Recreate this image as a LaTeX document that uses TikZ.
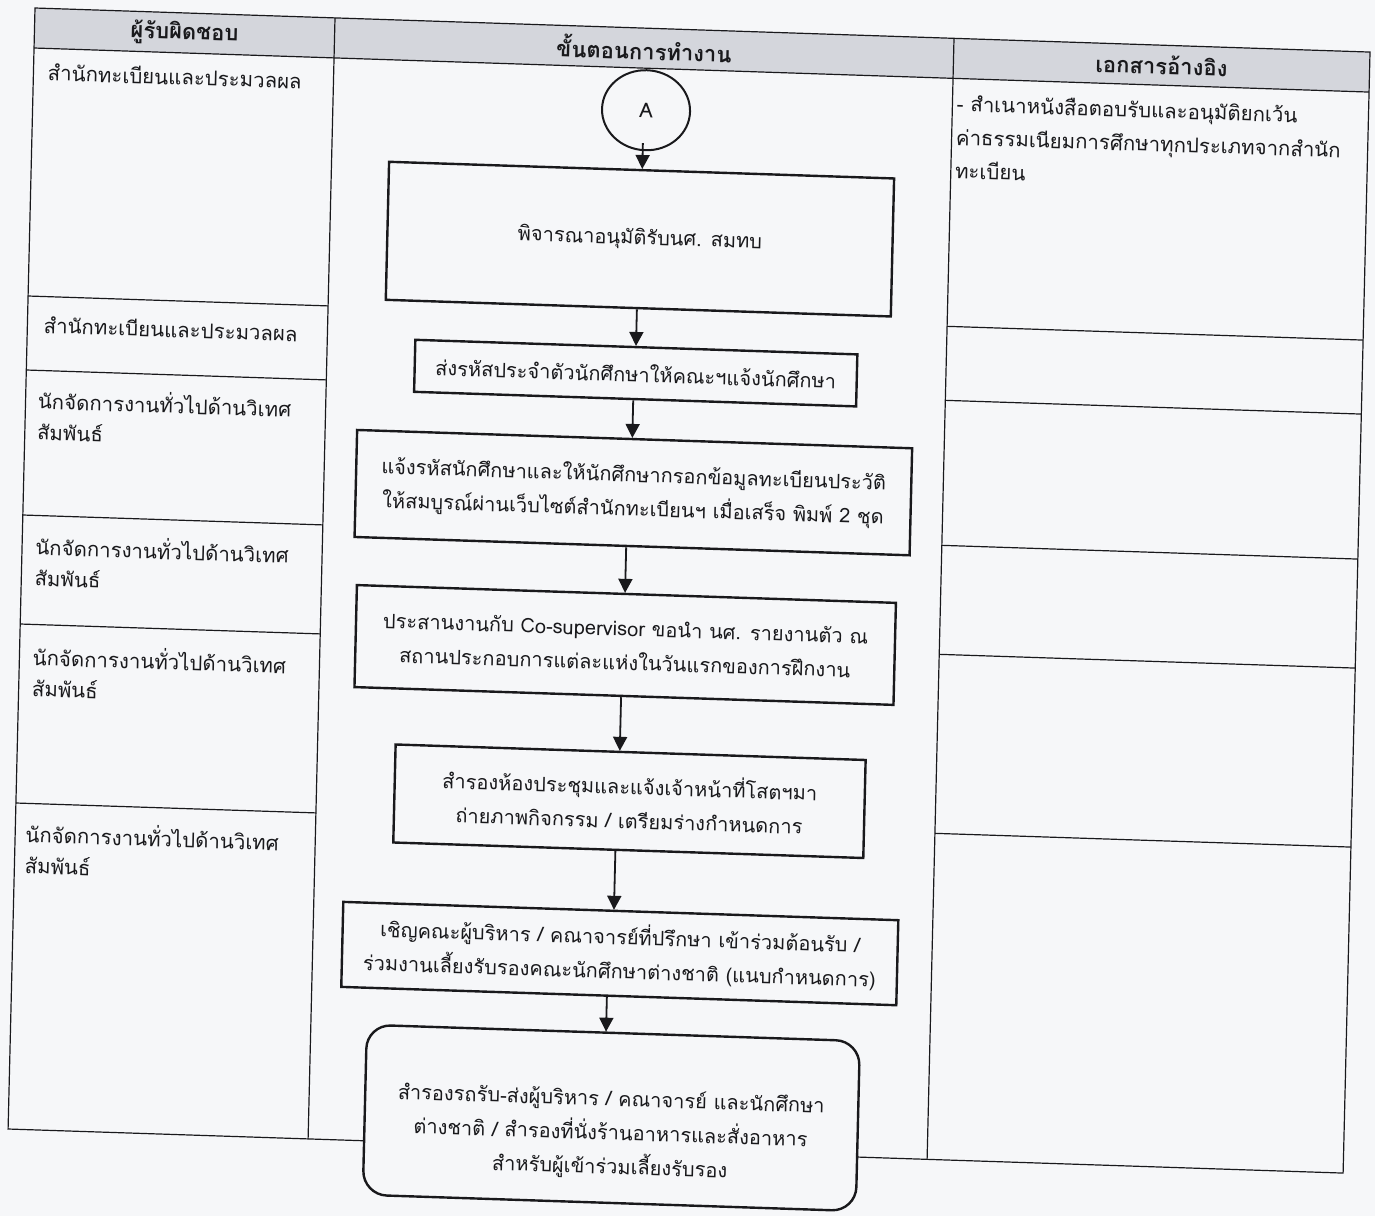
\documentclass[tikz,border=0pt]{standalone}
\usepackage{fontspec}
\setmainfont{Loma}[Script=Thai]
\usetikzlibrary{arrows.meta,shapes.geometric}
\definecolor{paper}{RGB}{246,247,249}
\definecolor{hdrfill}{RGB}{212,214,220}
\definecolor{ink}{RGB}{25,25,28}
\newcommand{\bodyfont}{\fontsize{10pt}{17pt}\selectfont}
\newcommand{\cellfont}{\fontsize{10.2pt}{15.5pt}\selectfont}
\newcommand{\headfont}{\fontsize{11pt}{14pt}\selectfont\bfseries}
\tikzset{
  tbl/.style={draw=ink, line width=0.6pt},
  stepbox/.style={draw=ink, line width=1.2pt, fill=paper, align=center, inner sep=0pt, font=\bodyfont, text=ink},
  celltxt/.style={anchor=west, align=left, inner sep=0pt, font=\cellfont, text=ink},
  hdtxt/.style={inner sep=0pt, font=\headfont, text=ink},
  arr/.style={draw=ink, line width=0.9pt, -{Triangle[width=7pt,length=7pt]}},
}
\begin{document}
\begin{tikzpicture}[x=0.5pt,y=0.5pt]
\fill[paper] (0,0) rectangle (1375,-1216);
\useasboundingbox (0,0) rectangle (1375,-1216);
\begin{scope}[cm={1,-0.033,0.024,1,(35,-8)}, transform shape]
  % table
  \fill[hdrfill] (0,0) rectangle (1335,-40);
  \draw[tbl] (0,0) rectangle (1335,-1121);
  \draw[tbl] (0,-40) -- (1335,-40);
  \draw[tbl] (300,0) -- (300,-1121);
  \draw[tbl] (919,0) -- (919,-1121);
  \foreach \v in {288,362,507,616,795}{
    \draw[tbl] (0,-\v) -- (300,-\v);
    \draw[tbl] (919,-\v) -- (1335,-\v);
  }
  % headers
  \node[hdtxt] (h1) at (150,-20) {ผู้รับผิดชอบ};
  \node[hdtxt] (h2) at (609.5,-20) {ขั้นตอนการทำงาน};
  \node[hdtxt] (h3) at (1127,-20) {เอกสารอ้างอิง};
  % left column
  \node[celltxt] (r1) at (14,-63.5) {สำนักทะเบียนและประมวลผล};
  \node[celltxt] (r2) at (16,-316) {สำนักทะเบียนและประมวลผล};
  \node[celltxt] (r3) at (12,-405.6) {นักจัดการงานทั่วไปด้านวิเทศ\\สัมพันธ์};
  \node[celltxt] (r4) at (13,-551.6) {นักจัดการงานทั่วไปด้านวิเทศ\\สัมพันธ์};
  \node[celltxt] (r5) at (13,-662) {นักจัดการงานทั่วไปด้านวิเทศ\\สัมพันธ์};
  \node[celltxt] (r6) at (10,-839) {นักจัดการงานทั่วไปด้านวิเทศ\\สัมพันธ์};
  % right column
  \node[celltxt, font=\fontsize{10.2pt}{16.75pt}\selectfont] (d1) at (923,-98) {- สำเนาหนังสือตอบรับและอนุมัติยกเว้น\\ค่าธรรมเนียมการศึกษาทุกประเภทจากสำนัก\\ทะเบียน};
  % flow
  \node[ellipse, draw=ink, line width=1pt, fill=paper, minimum width=44pt, minimum height=40pt, inner sep=0pt, font=\cellfont, text=ink] (A) at (613,-82) {A};
  \node[stepbox, minimum width=252.5pt, minimum height=69pt] (b1) at (610,-211) {พิจารณาอนุมัติรับนศ. สมทบ};
  \node[stepbox, minimum width=221pt, minimum height=26pt] (b2) at (609,-345) {ส่งรหัสประจำตัวนักศึกษาให้คณะฯแจ้งนักศึกษา};
  \node[stepbox, minimum width=277.5pt, minimum height=53.5pt] (b3) at (609.5,-464.5) {แจ้งรหัสนักศึกษาและให้นักศึกษากรอกข้อมูลทะเบียนประวัติ\\ให้สมบูรณ์ผ่านเว็บไซต์สำนักทะเบียนฯ เมื่อเสร็จ พิมพ์ 2 ชุด};
  \node[stepbox, minimum width=269.5pt, minimum height=51pt] (b4) at (605,-617) {ประสานงานกับ Co-supervisor ขอนำ นศ. รายงานตัว ณ\\สถานประกอบการแต่ละแห่งในวันแรกของการฝึกงาน};
  \node[stepbox, minimum width=235pt, minimum height=49pt] (b5) at (613,-773) {สำรองห้องประชุมและแจ้งเจ้าหน้าที่โสตฯมา\\ถ่ายภาพกิจกรรม / เตรียมร่างกำหนดการ};
  \node[stepbox, minimum width=277.5pt, minimum height=42.5pt] (b6) at (607,-925.5) {เชิญคณะผู้บริหาร / คณาจารย์ที่ปรึกษา เข้าร่วมต้อนรับ /\\ร่วมงานเลี้ยงรับรองคณะนักศึกษาต่างชาติ (แนบกำหนดการ)};
  \node[stepbox, rounded corners=12pt, minimum width=246.5pt, minimum height=85pt] (b7) at (602.5,-1090) {};
  \node[align=center, inner sep=0pt, font=\bodyfont, text=ink] (t7) at (602,-1106) {สำรองรถรับ-ส่งผู้บริหาร / คณาจารย์ และนักศึกษา\\ต่างชาติ / สำรองที่นั่งร้านอาหารและสั่งอาหาร\\สำหรับผู้เข้าร่วมเลี้ยงรับรอง};
  % arrows
  \coordinate (x1) at (610.5,0);
  \coordinate (x2) at (608.5,0);
  \coordinate (x3) at (607,0);
  \coordinate (x4) at (603.5,0);
  \coordinate (x5) at (602,0);
  \coordinate (x6) at (600,0);
  \coordinate (x7) at (595,0);
  \draw[arr] ([yshift=4pt]A.south -| x1) -- (b1.north -| x1);
  \draw[arr] (b1.south -| x2) -- (b2.north -| x2);
  \draw[arr] (b2.south -| x3) -- (b3.north -| x3);
  \draw[arr] (b3.south -| x4) -- (b4.north -| x4);
  \draw[arr] (b4.south -| x5) -- (b5.north -| x5);
  \draw[arr] (b5.south -| x6) -- (b6.north -| x6);
  \draw[arr] (b6.south -| x7) -- (b7.north -| x7);
\end{scope}
\end{tikzpicture}
\end{document}
